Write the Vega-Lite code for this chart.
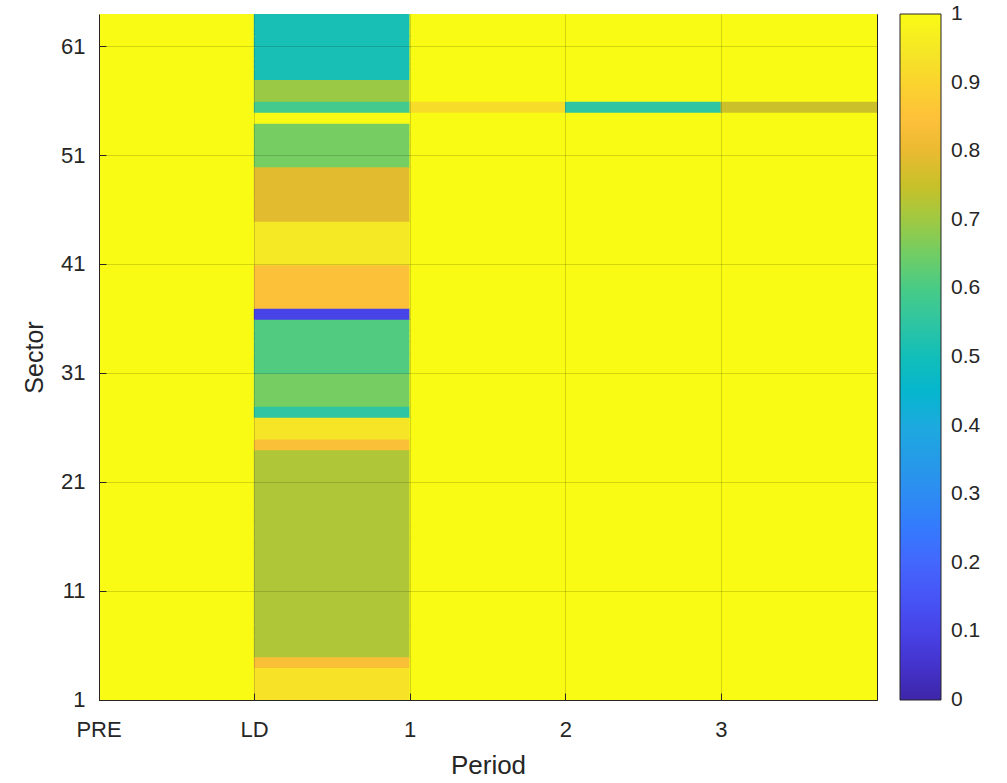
{
  "$schema": "https://vega.github.io/schema/vega-lite/v6.json",
  "width": 778,
  "height": 686,
  "autosize": {"type": "none"},
  "padding": {"left": 99, "top": 14, "right": 130, "bottom": 83},
  "background": "#ffffff",
  "config": {
    "font": "Liberation Sans",
    "view": {"stroke": "#262626", "strokeWidth": 1},
    "axis": {"labelColor": "#262626", "titleColor": "#262626", "domainColor": "#262626", "tickColor": "#262626", "titleFontWeight": "normal"}
  },
  "data": {"values": [
    {"p":"PRE","s":1,"v":1},{"p":"LD","s":1,"v":0.935},{"p":"1","s":1,"v":1},{"p":"2","s":1,"v":1},{"p":"3","s":1,"v":1},
    {"p":"PRE","s":2,"v":1},{"p":"LD","s":2,"v":0.935},{"p":"1","s":2,"v":1},{"p":"2","s":2,"v":1},{"p":"3","s":2,"v":1},
    {"p":"PRE","s":3,"v":1},{"p":"LD","s":3,"v":0.935},{"p":"1","s":3,"v":1},{"p":"2","s":3,"v":1},{"p":"3","s":3,"v":1},
    {"p":"PRE","s":4,"v":1},{"p":"LD","s":4,"v":0.835},{"p":"1","s":4,"v":1},{"p":"2","s":4,"v":1},{"p":"3","s":4,"v":1},
    {"p":"PRE","s":5,"v":1},{"p":"LD","s":5,"v":0.72},{"p":"1","s":5,"v":1},{"p":"2","s":5,"v":1},{"p":"3","s":5,"v":1},
    {"p":"PRE","s":6,"v":1},{"p":"LD","s":6,"v":0.72},{"p":"1","s":6,"v":1},{"p":"2","s":6,"v":1},{"p":"3","s":6,"v":1},
    {"p":"PRE","s":7,"v":1},{"p":"LD","s":7,"v":0.72},{"p":"1","s":7,"v":1},{"p":"2","s":7,"v":1},{"p":"3","s":7,"v":1},
    {"p":"PRE","s":8,"v":1},{"p":"LD","s":8,"v":0.72},{"p":"1","s":8,"v":1},{"p":"2","s":8,"v":1},{"p":"3","s":8,"v":1},
    {"p":"PRE","s":9,"v":1},{"p":"LD","s":9,"v":0.72},{"p":"1","s":9,"v":1},{"p":"2","s":9,"v":1},{"p":"3","s":9,"v":1},
    {"p":"PRE","s":10,"v":1},{"p":"LD","s":10,"v":0.72},{"p":"1","s":10,"v":1},{"p":"2","s":10,"v":1},{"p":"3","s":10,"v":1},
    {"p":"PRE","s":11,"v":1},{"p":"LD","s":11,"v":0.72},{"p":"1","s":11,"v":1},{"p":"2","s":11,"v":1},{"p":"3","s":11,"v":1},
    {"p":"PRE","s":12,"v":1},{"p":"LD","s":12,"v":0.72},{"p":"1","s":12,"v":1},{"p":"2","s":12,"v":1},{"p":"3","s":12,"v":1},
    {"p":"PRE","s":13,"v":1},{"p":"LD","s":13,"v":0.72},{"p":"1","s":13,"v":1},{"p":"2","s":13,"v":1},{"p":"3","s":13,"v":1},
    {"p":"PRE","s":14,"v":1},{"p":"LD","s":14,"v":0.72},{"p":"1","s":14,"v":1},{"p":"2","s":14,"v":1},{"p":"3","s":14,"v":1},
    {"p":"PRE","s":15,"v":1},{"p":"LD","s":15,"v":0.72},{"p":"1","s":15,"v":1},{"p":"2","s":15,"v":1},{"p":"3","s":15,"v":1},
    {"p":"PRE","s":16,"v":1},{"p":"LD","s":16,"v":0.72},{"p":"1","s":16,"v":1},{"p":"2","s":16,"v":1},{"p":"3","s":16,"v":1},
    {"p":"PRE","s":17,"v":1},{"p":"LD","s":17,"v":0.72},{"p":"1","s":17,"v":1},{"p":"2","s":17,"v":1},{"p":"3","s":17,"v":1},
    {"p":"PRE","s":18,"v":1},{"p":"LD","s":18,"v":0.72},{"p":"1","s":18,"v":1},{"p":"2","s":18,"v":1},{"p":"3","s":18,"v":1},
    {"p":"PRE","s":19,"v":1},{"p":"LD","s":19,"v":0.72},{"p":"1","s":19,"v":1},{"p":"2","s":19,"v":1},{"p":"3","s":19,"v":1},
    {"p":"PRE","s":20,"v":1},{"p":"LD","s":20,"v":0.72},{"p":"1","s":20,"v":1},{"p":"2","s":20,"v":1},{"p":"3","s":20,"v":1},
    {"p":"PRE","s":21,"v":1},{"p":"LD","s":21,"v":0.72},{"p":"1","s":21,"v":1},{"p":"2","s":21,"v":1},{"p":"3","s":21,"v":1},
    {"p":"PRE","s":22,"v":1},{"p":"LD","s":22,"v":0.72},{"p":"1","s":22,"v":1},{"p":"2","s":22,"v":1},{"p":"3","s":22,"v":1},
    {"p":"PRE","s":23,"v":1},{"p":"LD","s":23,"v":0.72},{"p":"1","s":23,"v":1},{"p":"2","s":23,"v":1},{"p":"3","s":23,"v":1},
    {"p":"PRE","s":24,"v":1},{"p":"LD","s":24,"v":0.84},{"p":"1","s":24,"v":1},{"p":"2","s":24,"v":1},{"p":"3","s":24,"v":1},
    {"p":"PRE","s":25,"v":1},{"p":"LD","s":25,"v":0.94},{"p":"1","s":25,"v":1},{"p":"2","s":25,"v":1},{"p":"3","s":25,"v":1},
    {"p":"PRE","s":26,"v":1},{"p":"LD","s":26,"v":0.94},{"p":"1","s":26,"v":1},{"p":"2","s":26,"v":1},{"p":"3","s":26,"v":1},
    {"p":"PRE","s":27,"v":1},{"p":"LD","s":27,"v":0.55},{"p":"1","s":27,"v":1},{"p":"2","s":27,"v":1},{"p":"3","s":27,"v":1},
    {"p":"PRE","s":28,"v":1},{"p":"LD","s":28,"v":0.655},{"p":"1","s":28,"v":1},{"p":"2","s":28,"v":1},{"p":"3","s":28,"v":1},
    {"p":"PRE","s":29,"v":1},{"p":"LD","s":29,"v":0.655},{"p":"1","s":29,"v":1},{"p":"2","s":29,"v":1},{"p":"3","s":29,"v":1},
    {"p":"PRE","s":30,"v":1},{"p":"LD","s":30,"v":0.655},{"p":"1","s":30,"v":1},{"p":"2","s":30,"v":1},{"p":"3","s":30,"v":1},
    {"p":"PRE","s":31,"v":1},{"p":"LD","s":31,"v":0.61},{"p":"1","s":31,"v":1},{"p":"2","s":31,"v":1},{"p":"3","s":31,"v":1},
    {"p":"PRE","s":32,"v":1},{"p":"LD","s":32,"v":0.61},{"p":"1","s":32,"v":1},{"p":"2","s":32,"v":1},{"p":"3","s":32,"v":1},
    {"p":"PRE","s":33,"v":1},{"p":"LD","s":33,"v":0.61},{"p":"1","s":33,"v":1},{"p":"2","s":33,"v":1},{"p":"3","s":33,"v":1},
    {"p":"PRE","s":34,"v":1},{"p":"LD","s":34,"v":0.61},{"p":"1","s":34,"v":1},{"p":"2","s":34,"v":1},{"p":"3","s":34,"v":1},
    {"p":"PRE","s":35,"v":1},{"p":"LD","s":35,"v":0.61},{"p":"1","s":35,"v":1},{"p":"2","s":35,"v":1},{"p":"3","s":35,"v":1},
    {"p":"PRE","s":36,"v":1},{"p":"LD","s":36,"v":0.1},{"p":"1","s":36,"v":1},{"p":"2","s":36,"v":1},{"p":"3","s":36,"v":1},
    {"p":"PRE","s":37,"v":1},{"p":"LD","s":37,"v":0.845},{"p":"1","s":37,"v":1},{"p":"2","s":37,"v":1},{"p":"3","s":37,"v":1},
    {"p":"PRE","s":38,"v":1},{"p":"LD","s":38,"v":0.845},{"p":"1","s":38,"v":1},{"p":"2","s":38,"v":1},{"p":"3","s":38,"v":1},
    {"p":"PRE","s":39,"v":1},{"p":"LD","s":39,"v":0.845},{"p":"1","s":39,"v":1},{"p":"2","s":39,"v":1},{"p":"3","s":39,"v":1},
    {"p":"PRE","s":40,"v":1},{"p":"LD","s":40,"v":0.845},{"p":"1","s":40,"v":1},{"p":"2","s":40,"v":1},{"p":"3","s":40,"v":1},
    {"p":"PRE","s":41,"v":1},{"p":"LD","s":41,"v":0.95},{"p":"1","s":41,"v":1},{"p":"2","s":41,"v":1},{"p":"3","s":41,"v":1},
    {"p":"PRE","s":42,"v":1},{"p":"LD","s":42,"v":0.95},{"p":"1","s":42,"v":1},{"p":"2","s":42,"v":1},{"p":"3","s":42,"v":1},
    {"p":"PRE","s":43,"v":1},{"p":"LD","s":43,"v":0.95},{"p":"1","s":43,"v":1},{"p":"2","s":43,"v":1},{"p":"3","s":43,"v":1},
    {"p":"PRE","s":44,"v":1},{"p":"LD","s":44,"v":0.95},{"p":"1","s":44,"v":1},{"p":"2","s":44,"v":1},{"p":"3","s":44,"v":1},
    {"p":"PRE","s":45,"v":1},{"p":"LD","s":45,"v":0.79},{"p":"1","s":45,"v":1},{"p":"2","s":45,"v":1},{"p":"3","s":45,"v":1},
    {"p":"PRE","s":46,"v":1},{"p":"LD","s":46,"v":0.79},{"p":"1","s":46,"v":1},{"p":"2","s":46,"v":1},{"p":"3","s":46,"v":1},
    {"p":"PRE","s":47,"v":1},{"p":"LD","s":47,"v":0.79},{"p":"1","s":47,"v":1},{"p":"2","s":47,"v":1},{"p":"3","s":47,"v":1},
    {"p":"PRE","s":48,"v":1},{"p":"LD","s":48,"v":0.79},{"p":"1","s":48,"v":1},{"p":"2","s":48,"v":1},{"p":"3","s":48,"v":1},
    {"p":"PRE","s":49,"v":1},{"p":"LD","s":49,"v":0.79},{"p":"1","s":49,"v":1},{"p":"2","s":49,"v":1},{"p":"3","s":49,"v":1},
    {"p":"PRE","s":50,"v":1},{"p":"LD","s":50,"v":0.655},{"p":"1","s":50,"v":1},{"p":"2","s":50,"v":1},{"p":"3","s":50,"v":1},
    {"p":"PRE","s":51,"v":1},{"p":"LD","s":51,"v":0.655},{"p":"1","s":51,"v":1},{"p":"2","s":51,"v":1},{"p":"3","s":51,"v":1},
    {"p":"PRE","s":52,"v":1},{"p":"LD","s":52,"v":0.655},{"p":"1","s":52,"v":1},{"p":"2","s":52,"v":1},{"p":"3","s":52,"v":1},
    {"p":"PRE","s":53,"v":1},{"p":"LD","s":53,"v":0.655},{"p":"1","s":53,"v":1},{"p":"2","s":53,"v":1},{"p":"3","s":53,"v":1},
    {"p":"PRE","s":54,"v":1},{"p":"LD","s":54,"v":1},{"p":"1","s":54,"v":1},{"p":"2","s":54,"v":1},{"p":"3","s":54,"v":1},
    {"p":"PRE","s":55,"v":1},{"p":"LD","s":55,"v":0.59},{"p":"1","s":55,"v":0.92},{"p":"2","s":55,"v":0.55},{"p":"3","s":55,"v":0.755},
    {"p":"PRE","s":56,"v":1},{"p":"LD","s":56,"v":0.695},{"p":"1","s":56,"v":1},{"p":"2","s":56,"v":1},{"p":"3","s":56,"v":1},
    {"p":"PRE","s":57,"v":1},{"p":"LD","s":57,"v":0.695},{"p":"1","s":57,"v":1},{"p":"2","s":57,"v":1},{"p":"3","s":57,"v":1},
    {"p":"PRE","s":58,"v":1},{"p":"LD","s":58,"v":0.51},{"p":"1","s":58,"v":1},{"p":"2","s":58,"v":1},{"p":"3","s":58,"v":1},
    {"p":"PRE","s":59,"v":1},{"p":"LD","s":59,"v":0.51},{"p":"1","s":59,"v":1},{"p":"2","s":59,"v":1},{"p":"3","s":59,"v":1},
    {"p":"PRE","s":60,"v":1},{"p":"LD","s":60,"v":0.51},{"p":"1","s":60,"v":1},{"p":"2","s":60,"v":1},{"p":"3","s":60,"v":1},
    {"p":"PRE","s":61,"v":1},{"p":"LD","s":61,"v":0.51},{"p":"1","s":61,"v":1},{"p":"2","s":61,"v":1},{"p":"3","s":61,"v":1},
    {"p":"PRE","s":62,"v":1},{"p":"LD","s":62,"v":0.51},{"p":"1","s":62,"v":1},{"p":"2","s":62,"v":1},{"p":"3","s":62,"v":1},
    {"p":"PRE","s":63,"v":1},{"p":"LD","s":63,"v":0.51},{"p":"1","s":63,"v":1},{"p":"2","s":63,"v":1},{"p":"3","s":63,"v":1}
  ]},
  "mark": {"type": "rect", "strokeWidth": 0, "height": {"band": 1.14}, "width": {"band": 1.01}, "clip": true},
  "encoding": {
    "x": {
      "field": "p", "type": "ordinal",
      "sort": ["PRE", "LD", "1", "2", "3"],
      "scale": {"paddingInner": 0, "paddingOuter": 0},
      "axis": {
        "title": "Period", "titleFontSize": 26, "titlePadding": 12,
        "labelAngle": 0, "labelFontSize": 22, "labelPadding": 26, "labelOffset": -77.8,
        "bandPosition": 0, "tickSize": -7, "tickWidth": 1,
        "grid": true, "gridColor": "#000000", "gridOpacity": 0.15,
        "zindex": 1
      }
    },
    "y": {
      "field": "s", "type": "ordinal",
      "sort": "descending",
      "scale": {"paddingInner": 0, "paddingOuter": 0},
      "axis": {
        "title": "Sector", "titleFontSize": 25, "titlePadding": 13,
        "values": [1, 11, 21, 31, 41, 51, 61],
        "labelFontSize": 22, "labelPadding": 21, "labelOffset": 5.44,
        "bandPosition": 1, "tickSize": -7, "tickWidth": 1,
        "grid": true, "gridColor": "#000000", "gridOpacity": 0.15,
        "zindex": 1
      }
    },
    "color": {
      "field": "v", "type": "quantitative",
      "scale": {
        "domain": [-0.0005, 0.05, 0.1, 0.15, 0.2, 0.25, 0.3, 0.35, 0.4, 0.45, 0.5, 0.55, 0.6, 0.65, 0.7, 0.75, 0.8, 0.85, 0.9, 0.95, 1.0005],
        "range": ["#3e26a8", "#4433cc", "#4743e7", "#4755f6", "#4367fd", "#347afd", "#2d8cf3", "#259be7", "#1caade", "#05b6ce", "#12beb9", "#2fc5a2", "#48cb86", "#71cd64", "#9fc942", "#c8c129", "#eaba31", "#fec13a", "#fad42e", "#f5e825", "#f9fb15"],
        "interpolate": "rgb"
      },
      "legend": {
        "type": "gradient",
        "title": null, "orient": "none", "legendX": 801, "legendY": 0,
        "direction": "vertical", "gradientLength": 686, "gradientThickness": 41,
        "gradientStrokeColor": "#262626", "gradientStrokeWidth": 1,
        "values": [0, 0.1, 0.2, 0.3, 0.4, 0.5, 0.6, 0.7, 0.8, 0.9, 1],
        "format": "~g", "labelFontSize": 21, "labelColor": "#262626",
        "labelOffset": 10, "labelOverlap": false
      }
    }
  }
}
